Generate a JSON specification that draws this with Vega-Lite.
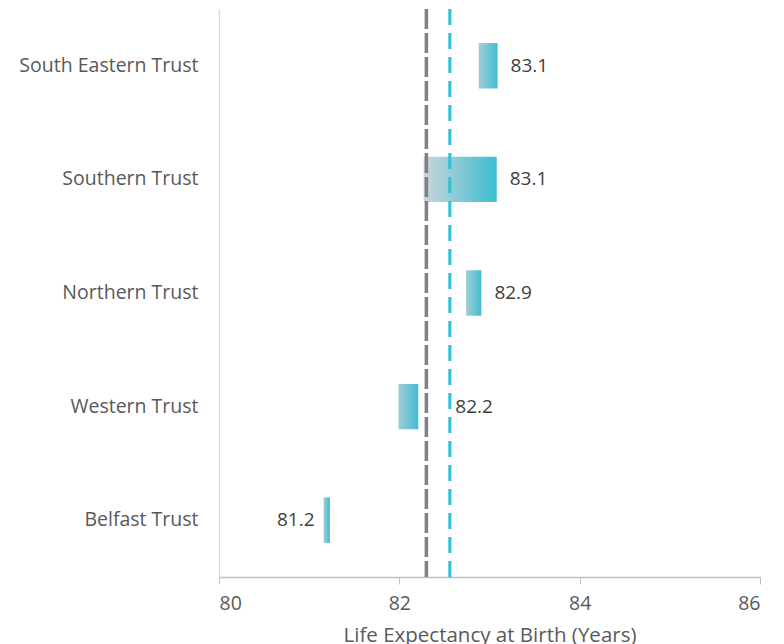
{
  "$schema": "https://vega.github.io/schema/vega-lite/v6.json",
  "autosize": "none",
  "width": 541,
  "height": 568,
  "padding": {"left": 219, "top": 9, "right": 24, "bottom": 67},
  "background": "white",
  "config": {
    "view": {"stroke": null},
    "font": "Open Sans"
  },
  "datasets": {
    "trusts": [
      {"trust": "South Eastern Trust", "start": 82.88, "end": 83.09, "le": 83.1},
      {"trust": "Southern Trust", "start": 82.27, "end": 83.08, "le": 83.1},
      {"trust": "Northern Trust", "start": 82.74, "end": 82.91, "le": 82.9},
      {"trust": "Western Trust", "start": 81.99, "end": 82.21, "le": 82.2},
      {"trust": "Belfast Trust", "start": 81.16, "end": 81.23, "le": 81.2}
    ]
  },
  "data": {"name": "trusts"},
  "encoding": {
    "y": {
      "field": "trust",
      "type": "nominal",
      "sort": ["South Eastern Trust", "Southern Trust", "Northern Trust", "Western Trust", "Belfast Trust"],
      "scale": {"domain": ["South Eastern Trust", "Southern Trust", "Northern Trust", "Western Trust", "Belfast Trust"], "paddingInner": 0.6, "paddingOuter": 0.3},
      "axis": {
        "title": null,
        "ticks": false,
        "labelPadding": 21,
        "labelFontSize": 19.5,
        "labelColor": "#595959",
        "labelFont": "Open Sans",
        "domainColor": "#d9d9d9",
        "domainWidth": 1.3
      }
    }
  },
  "layer": [
    {
      "transform": [{"filter": "datum.trust !== 'Southern Trust'"}],
      "mark": {
        "type": "bar",
        "color": {
          "gradient": "linear",
          "x1": 0, "x2": 1, "y1": 0, "y2": 0,
          "stops": [
            {"offset": 0, "color": "#a2cdd7"},
            {"offset": 1, "color": "#40bdd0"}
          ]
        }
      },
      "encoding": {
        "x": {
          "field": "start",
          "type": "quantitative",
          "scale": {"domain": [80, 86], "nice": false, "zero": false},
          "axis": {
            "values": [80, 82, 84, 86],
            "format": "d",
            "grid": false,
            "title": "Life Expectancy at Birth (Years)",
            "titleFontSize": 20.5,
            "titleFontWeight": "normal",
            "titleColor": "#595959",
            "titleFont": "Open Sans",
            "titlePadding": 13,
            "labelFontSize": 19.5,
            "labelColor": "#595959",
            "labelFont": "Open Sans",
            "labelPadding": 10,
            "tickSize": 7,
            "tickColor": "#bfbfbf",
            "domainColor": "#bfbfbf",
            "domainWidth": 1.3
          }
        },
        "x2": {"field": "end"}
      }
    },
    {
      "transform": [{"filter": "datum.trust === 'Southern Trust'"}],
      "mark": {
        "type": "bar",
        "color": {
          "gradient": "linear",
          "x1": 0, "x2": 1, "y1": 0, "y2": 0,
          "stops": [
            {"offset": 0, "color": "#cad6da"},
            {"offset": 1, "color": "#3bbdd0"}
          ]
        }
      },
      "encoding": {
        "x": {"field": "start", "type": "quantitative"},
        "x2": {"field": "end"}
      }
    },
    {
      "transform": [{"filter": "datum.trust !== 'Western Trust' && datum.trust !== 'Belfast Trust'"}],
      "mark": {"type": "text", "align": "left", "baseline": "middle", "dx": 13, "fontSize": 19, "color": "#404040", "font": "Open Sans"},
      "encoding": {
        "x": {"field": "end", "type": "quantitative"},
        "text": {"field": "le", "type": "quantitative", "format": ".1f"}
      }
    },
    {
      "transform": [{"filter": "datum.trust === 'Western Trust'"}],
      "mark": {"type": "text", "align": "left", "baseline": "middle", "dx": 37, "fontSize": 19, "color": "#404040", "font": "Open Sans"},
      "encoding": {
        "x": {"field": "end", "type": "quantitative"},
        "text": {"field": "le", "type": "quantitative", "format": ".1f"}
      }
    },
    {
      "transform": [{"filter": "datum.trust === 'Belfast Trust'"}],
      "mark": {"type": "text", "align": "right", "baseline": "middle", "dx": -9, "fontSize": 19, "color": "#404040", "font": "Open Sans"},
      "encoding": {
        "x": {"field": "start", "type": "quantitative"},
        "text": {"field": "le", "type": "quantitative", "format": ".1f"}
      }
    },
    {
      "data": {"values": [{"ref": "grey", "value": 82.3}]},
      "mark": {"type": "rule", "color": "#808080", "strokeWidth": 3.5, "strokeDash": [20, 4]},
      "encoding": {
        "x": {"field": "value", "type": "quantitative"},
        "y": null
      }
    },
    {
      "data": {"values": [{"ref": "teal", "value": 82.56}]},
      "mark": {"type": "rule", "color": "#2ec0d6", "strokeWidth": 3, "strokeDash": [16, 8]},
      "encoding": {
        "x": {"field": "value", "type": "quantitative"},
        "y": null
      }
    }
  ]
}
